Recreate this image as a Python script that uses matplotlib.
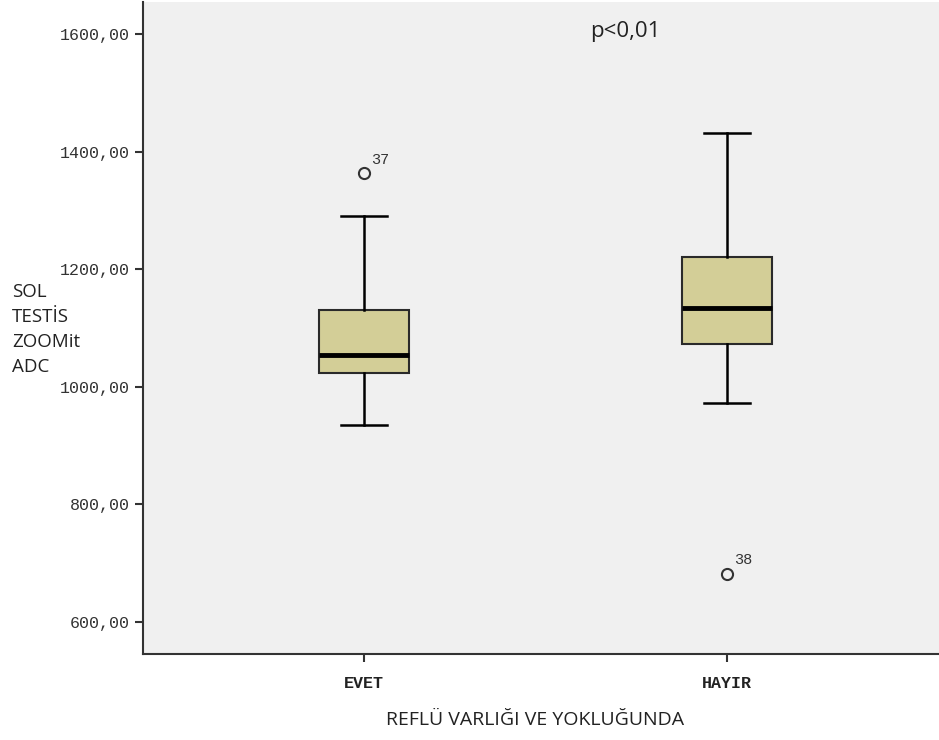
# Box plot: left testis ZOOMit ADC by reflux presence
import matplotlib.pyplot as plt

# Data
groups = ['EVET', 'HAYIR']
q1 = [1023, 1072]
medians = [1054, 1134]
q3 = [1130, 1221]
whisker_low = [934, 972]
whisker_high = [1290, 1432]
outliers = [[1363], [681]]
outlier_ids = ['37', '38']
y_ticks = [600, 800, 1000, 1200, 1400, 1600]

positions = [1, 2]

stats = []
for i in range(len(groups)):
    stats.append({
        'label': groups[i],
        'q1': q1[i],
        'med': medians[i],
        'q3': q3[i],
        'whislo': whisker_low[i],
        'whishi': whisker_high[i],
        'fliers': outliers[i],
    })

fig = plt.figure(figsize=(9.39, 7.40), dpi=100)
ax = fig.add_axes([143 / 939, 86 / 740, 1 - 143 / 939, 652 / 740])
ax.set_facecolor('#f0f0f0')

ax.bxp(stats, positions=positions, widths=0.25, patch_artist=True,
       boxprops=dict(facecolor='#d3ce97', edgecolor='#2a2a2a', linewidth=1.5),
       medianprops=dict(color='black', linewidth=3.5),
       whiskerprops=dict(color='black', linewidth=1.8),
       capprops=dict(color='black', linewidth=1.8),
       flierprops=dict(marker='o', markerfacecolor='none', markeredgecolor='#333333',
                       markersize=8, markeredgewidth=1.5))

# outlier case numbers
for i in range(len(groups)):
    for v in outliers[i]:
        ax.annotate(outlier_ids[i], (positions[i], v), xytext=(5, 7),
                    textcoords='offset points', fontsize=11,
                    family='Liberation Mono', color='#333333')

ax.set_xlim(0.391, 2.584)
ax.set_ylim(544.7, 1654.5)

ax.set_yticks(y_ticks)
ax.set_yticklabels(['%d,00' % t for t in y_ticks], family='Liberation Mono',
                   fontsize=12, color='#333333')
ax.set_xticks(positions)
ax.set_xticklabels(groups, family='Liberation Mono', fontsize=12,
                   fontweight='bold', color='#222222')
ax.tick_params(axis='both', direction='out', length=6, width=1.5, color='#333333')
ax.tick_params(axis='x', pad=10)

for side in ['top', 'right']:
    ax.spines[side].set_visible(False)
for side in ['left', 'bottom']:
    ax.spines[side].set_linewidth(1.5)
    ax.spines[side].set_color('#333333')

# labels and p value
fig.text(12 / 939, 1 - 283 / 740, 'SOL\nTESTİS\nZOOMit\nADC', ha='left', va='top',
         fontsize=13.5, family='Open Sans', color='#222222', linespacing=1.5)
fig.text(535 / 939, 1 - 720 / 740, 'REFLÜ VARLIĞI VE YOKLUĞUNDA', ha='center',
         va='center', fontsize=14, family='Open Sans', color='#222222')
ax.text(1.72, 1605, 'p<0,01', ha='center', va='center', fontsize=16,
        family='Open Sans', color='#222222')

fig.savefig('out.png', dpi=100)
